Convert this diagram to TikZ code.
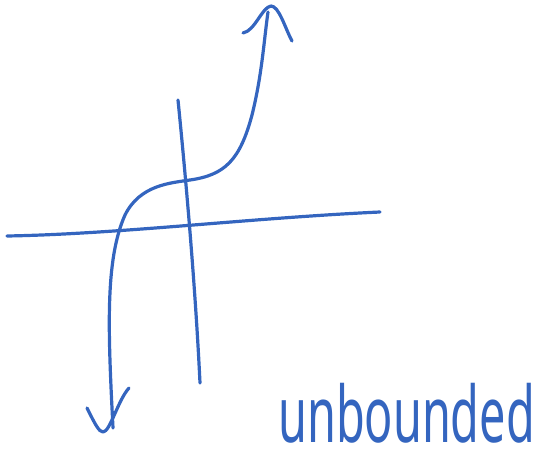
\documentclass[tikz,border=0pt]{standalone}
\usepackage{fontspec}
\newfontfamily\handfont{Noto Sans}
\usepackage{xcolor}
\usepackage{graphicx}
\definecolor{inkblue}{HTML}{3465BF}
\usetikzlibrary{positioning}

\begin{document}
\begin{tikzpicture}[
  x=1pt,y=-1pt,
  ink/.style={draw=inkblue,line width=3.2pt,line cap=round,line join=round},
  word/.style={text=inkblue,font=\handfont\fontsize{78}{78}\selectfont,inner sep=0pt,anchor=base west}
]
\useasboundingbox (0,0) rectangle (541,452);
% axes
\draw[ink] (7,236) .. controls (120,234) and (250,218) .. (380,212);
\draw[ink] (178,100) .. controls (188,200) and (196,300) .. (200,383);
% the cubic
\draw[ink] (113,428) .. controls (108,330) and (105,260) .. (125,215)
  .. controls (140,185) and (170,183) .. (190,180)
  .. controls (225,175) and (240,160) .. (252,115)
  .. controls (262,75) and (264,40) .. (268,12);
% arrow heads
\draw[ink] (243,33) .. controls (255,31) and (262,7) .. (271,6) .. controls (279,6) and (285,28) .. (292,41);
\draw[ink] (87,408) .. controls (95,424) and (99,432) .. (103,432) .. controls (110,432) and (118,400) .. (129,388);
\node[word] (label) at (278,442) {\scalebox{0.6}[1]{unbounded}};
\end{tikzpicture}
\end{document}
